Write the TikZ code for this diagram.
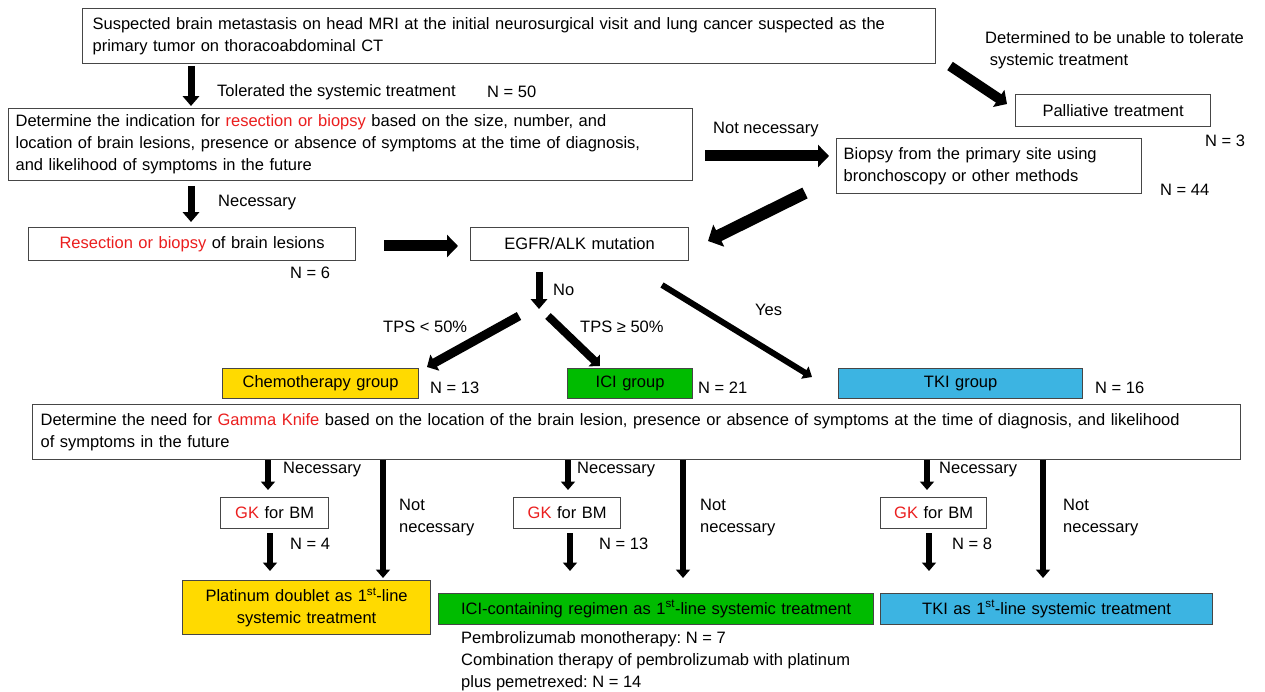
\documentclass[tikz,border=0pt]{standalone}
\usepackage{fontspec}
\setmainfont{Liberation Sans}
\usetikzlibrary{arrows.meta}
\definecolor{myred}{RGB}{235,30,30}
\definecolor{myyellow}{RGB}{255,218,0}
\definecolor{mygreen}{RGB}{0,187,0}
\definecolor{myblue}{RGB}{60,180,226}
\definecolor{myborder}{RGB}{70,70,70}
\newcommand{\hl}[1]{\textcolor{myred}{#1}}
\newcommand{\oneline}[1]{\mbox{#1}}
\frenchspacing
\begin{document}
\begin{tikzpicture}[x=1pt,y=-1pt,
  font=\fontsize{16.5}{22}\selectfont,
  box/.style={draw=myborder, line width=1.2pt, inner ysep=0pt, anchor=north west},
  lbl/.style={anchor=west, inner sep=0pt, align=left},
  fa/.style={line width=#1, -{Triangle[width=0pt 2.3, length=0pt 1.4]}},
  fb/.style={line width=#1, -{Triangle[width=0pt 2.0, length=0pt 1.0]}},
]
\useasboundingbox[fill=white] (0,0) rectangle (1265,692);

% boxes
\node[box, minimum width=853, minimum height=55, text width=833pt, inner xsep=10pt, align=left] (b1) at (82,8)
  {\oneline{Suspected brain metastasis on head MRI at the initial neurosurgical visit and lung cancer suspected as the}\\\oneline{primary tumor on thoracoabdominal CT}};
\node[box, minimum width=684, minimum height=72, text width=670pt, inner xsep=7pt, align=left] (b2) at (8,108)
  {\oneline{Determine the indication for \hl{resection or biopsy} based on the size, number, and}\\\oneline{location of brain lesions, presence or absence of symptoms at the time of diagnosis,}\\\oneline{and likelihood of symptoms in the future}};
\node[box, minimum width=195, minimum height=32, text width=185pt, inner xsep=5pt, align=center] (pal) at (1015,94) {Palliative treatment};
\node[box, minimum width=305, minimum height=55, text width=291pt, inner xsep=7pt, align=left] (bio) at (836,138)
  {\oneline{Biopsy from the primary site using}\\\oneline{bronchoscopy or other methods}};
\node[box, minimum width=327, minimum height=33, text width=317pt, inner xsep=5pt, align=center] (res) at (28,227)
  {\hl{Resection or biopsy} of brain lesions};
\node[box, minimum width=218, minimum height=33, text width=208pt, inner xsep=5pt, align=center] (egfr) at (470,227) {EGFR/ALK mutation};
\node[box, fill=myyellow, minimum width=196, minimum height=30, text width=186pt, inner xsep=5pt, align=center] (chemo) at (222,368) {Chemotherapy group};
\node[box, fill=mygreen, minimum width=125, minimum height=30, text width=115pt, inner xsep=5pt, align=center] (ici) at (567,368) {ICI group};
\node[box, fill=myblue, minimum width=244, minimum height=30, text width=234pt, inner xsep=5pt, align=center] (tki) at (838,368) {TKI group};
\node[box, minimum width=1208, minimum height=55, text width=1192pt, inner xsep=8pt, align=left] (gk) at (32,404)
  {\oneline{Determine the need for \hl{Gamma Knife} based on the location of the brain lesion, presence or absence of symptoms at the time of diagnosis, and likelihood}\\\oneline{of symptoms in the future}};
\node[box, minimum width=108, minimum height=31, text width=100pt, inner xsep=4pt, align=center] (gk1) at (220,497) {\hl{GK} for BM};
\node[box, minimum width=107, minimum height=31, text width=99pt, inner xsep=4pt, align=center] (gk2) at (513,497) {\hl{GK} for BM};
\node[box, minimum width=106, minimum height=31, text width=98pt, inner xsep=4pt, align=center] (gk3) at (880,497) {\hl{GK} for BM};
\node[box, fill=myyellow, minimum width=248, minimum height=54, text width=238pt, inner xsep=5pt, align=center] (plat) at (182,580)
  {Platinum doublet as 1\textsuperscript{st}-line\\systemic treatment};
\node[box, fill=mygreen, minimum width=435, minimum height=31, text width=425pt, inner xsep=5pt, align=center] (icireg) at (438,593)
  {ICI-containing regimen as 1\textsuperscript{st}-line systemic treatment};
\node[box, fill=myblue, minimum width=332, minimum height=31, text width=322pt, inner xsep=5pt, align=center] (tkireg) at (880,593)
  {TKI as 1\textsuperscript{st}-line systemic treatment};

% labels
\node[lbl] (l1) at (217,92) {Tolerated the systemic treatment};
\node[lbl] (l1n) at (487,92) {N = 50};
\node[lbl] (l2) at (985,50) {Determined to be unable to tolerate\\\ systemic treatment};
\node[lbl] (l3) at (1205,141) {N = 3};
\node[lbl] (l4) at (713,130) {Not necessary};
\node[lbl] (l5) at (1160,190) {N = 44};
\node[lbl] (l6) at (218,203) {Necessary};
\node[lbl] (l7) at (290,273) {N = 6};
\node[lbl] (l8) at (553,290) {No};
\node[lbl] (l9) at (383,327) {TPS < 50\%};
\node[lbl] (l10) at (580,327) {TPS ≥ 50\%};
\node[lbl] (l11) at (755,310) {Yes};
\node[lbl] (l12) at (430,388) {N = 13};
\node[lbl] (l13) at (698,388) {N = 21};
\node[lbl] (l14) at (1095,388) {N = 16};
\node[lbl] (n1) at (283,470) {Necessary};
\node[lbl] (n2) at (577,470) {Necessary};
\node[lbl] (n3) at (939,470) {Necessary};
\node[lbl] (k1) at (290,544) {N = 4};
\node[lbl] (k2) at (599,544) {N = 13};
\node[lbl] (k3) at (952,544) {N = 8};
\node[lbl] (nn1) at (399,518) {Not\\necessary};
\node[lbl] (nn2) at (700,518) {Not\\necessary};
\node[lbl] (nn3) at (1063,518) {Not\\necessary};
\node[lbl] (pem) at (461,661) {Pembrolizumab monotherapy: N = 7\\Combination therapy of pembrolizumab with platinum\\plus pemetrexed: N = 14};

% arrow end points
\coordinate (a1s) at (191,66);   \coordinate (a1e) at (191,106);
\coordinate (a2s) at (950,66);   \coordinate (a2e) at (1007,104);
\coordinate (a3s) at (705,156);  \coordinate (a3e) at (829,156);
\coordinate (a4s) at (805,193);  \coordinate (a4e) at (708,241);
\coordinate (a5s) at (191,186);  \coordinate (a5e) at (191,222);
\coordinate (a6s) at (384,246);  \coordinate (a6e) at (458,246);
\coordinate (a7s) at (539,272);  \coordinate (a7e) at (539,309);
\coordinate (a8s) at (519,316);  \coordinate (a8e) at (427,367);
\coordinate (a9s) at (548,316);  \coordinate (a9e) at (600,366);
\coordinate (a10s) at (662,285); \coordinate (a10e) at (812,377);
\coordinate (c1s) at (268,460);  \coordinate (c1e) at (268,490);
\coordinate (c2s) at (270,533);  \coordinate (c2e) at (270,571);
\coordinate (c3s) at (383,460);  \coordinate (c3e) at (383,578);
\coordinate (d1s) at (568,460);  \coordinate (d1e) at (568,490);
\coordinate (d2s) at (570,533);  \coordinate (d2e) at (570,571);
\coordinate (d3s) at (683,460);  \coordinate (d3e) at (683,578);
\coordinate (e1s) at (927,460);  \coordinate (e1e) at (927,490);
\coordinate (e2s) at (929,533);  \coordinate (e2e) at (929,571);
\coordinate (e3s) at (1043,460); \coordinate (e3e) at (1043,578);

\draw[fa=7pt] (a1s) -- (a1e);
\draw[fb=10pt] (a2s) -- (a2e);
\draw[fb=11pt] (a3s) -- (a3e);
\draw[fb=12pt] (a4s) -- (a4e);
\draw[fa=7pt] (a5s) -- (a5e);
\draw[fb=11pt] (a6s) -- (a6e);
\draw[fa=7pt] (a7s) -- (a7e);
\draw[fb=9pt] (a8s) -- (a8e);
\draw[fb=8pt] (a9s) -- (a9e);
\draw[fa=6pt] (a10s) -- (a10e);
\foreach \p in {c1,c2,c3,d1,d2,d3,e1,e2,e3}
  \draw[fa=6pt] (\p s) -- (\p e);
\end{tikzpicture}
\end{document}
